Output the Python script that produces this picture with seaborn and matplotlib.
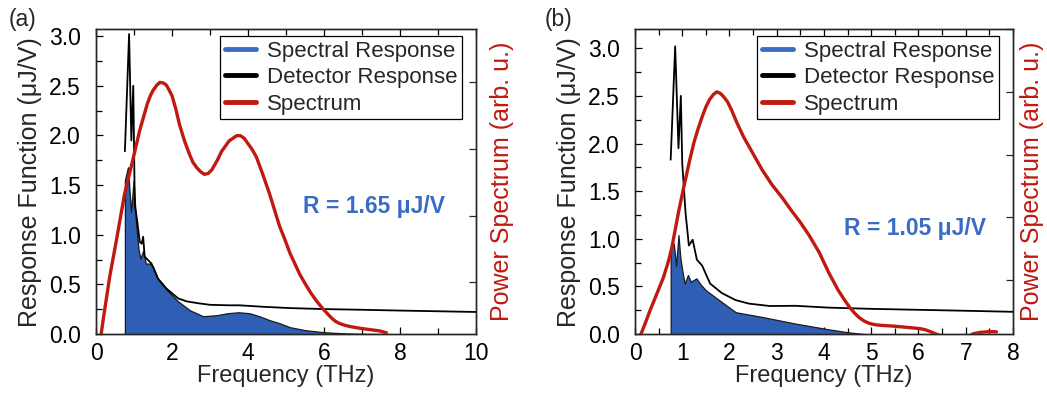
import matplotlib
matplotlib.use("Agg")
import matplotlib.pyplot as plt
from matplotlib.lines import Line2D
from matplotlib.ticker import MultipleLocator, FormatStrFormatter
import seaborn as sns
import pandas as pd

# ---------------- data: panel (a) ----------------
freq_det_a = [0.76, 0.87, 0.93, 0.98, 1.02, 1.08, 1.15, 1.20, 1.24, 1.28, 1.33, 1.46, 1.63,
              1.85, 2.16, 2.38, 2.70, 3.00, 3.50, 3.78, 4.40, 5.10, 6.00, 7.00, 8.00, 9.00, 10.0]
det_a = [1.84, 3.02, 1.95, 2.50, 1.30, 1.15, 0.93, 0.91, 0.98, 0.78, 0.76, 0.71, 0.56,
         0.46, 0.36, 0.33, 0.31, 0.295, 0.29, 0.29, 0.275, 0.262, 0.252, 0.245, 0.237, 0.23, 0.223]

freq_resp_a = [0.76, 0.84, 0.92, 0.99, 1.06, 1.12, 1.17, 1.24, 1.31, 1.41, 1.50, 1.63, 1.85,
               2.16, 2.47, 2.82, 3.17, 3.45, 3.75, 4.04, 4.30, 4.57, 4.83, 5.10, 5.50, 5.97,
               6.50, 7.00, 7.80]
resp_a = [1.55, 1.68, 1.23, 1.55, 1.08, 0.85, 0.76, 0.84, 0.71, 0.71, 0.68, 0.55, 0.45,
          0.33, 0.24, 0.18, 0.19, 0.21, 0.22, 0.21, 0.18, 0.14, 0.11, 0.07, 0.04, 0.02,
          0.008, 0.003, 0.0]

freq_spec_a = [0.08, 0.20, 0.36, 0.54, 0.75, 0.97, 1.15, 1.25, 1.35, 1.43, 1.50, 1.60, 1.68,
               1.77, 1.85, 1.93, 2.00, 2.10, 2.20, 2.33, 2.46, 2.55, 2.65, 2.75, 2.85, 2.95,
               3.05, 3.20, 3.30, 3.40, 3.50, 3.60, 3.70, 3.80, 3.90, 4.00, 4.10, 4.22, 4.40,
               4.57, 4.70, 4.83, 4.97, 5.10, 5.23, 5.36, 5.50, 5.65, 5.80, 5.97, 6.10, 6.20,
               6.30, 6.41, 6.55, 6.70, 6.94, 7.20, 7.46, 7.64]
spec_a = [0.0, 0.12, 0.27, 0.41, 0.58, 0.71, 0.82, 0.87, 0.92, 0.95, 0.97, 0.99, 1.0,
          0.998, 0.99, 0.97, 0.95, 0.90, 0.84, 0.78, 0.73, 0.70, 0.68, 0.665, 0.655, 0.658,
          0.672, 0.71, 0.74, 0.76, 0.78, 0.79, 0.80, 0.80, 0.79, 0.77, 0.75, 0.72, 0.65,
          0.58, 0.52, 0.46, 0.41, 0.36, 0.32, 0.28, 0.245, 0.21, 0.18, 0.15, 0.13, 0.115,
          0.103, 0.095, 0.088, 0.083, 0.077, 0.072, 0.067, 0.06]

# ---------------- data: panel (b) ----------------
freq_det_b = [0.755, 0.85, 0.92, 0.97, 1.00, 1.07, 1.14, 1.22, 1.31, 1.42, 1.59, 1.84, 2.13,
              2.41, 2.85, 3.40, 4.10, 5.00, 6.00, 7.00, 8.00]
det_b = [1.83, 3.02, 1.95, 2.50, 1.79, 1.27, 0.93, 0.99, 0.78, 0.72, 0.53, 0.43, 0.357,
         0.32, 0.295, 0.297, 0.278, 0.265, 0.255, 0.245, 0.234]

freq_resp_b = [0.755, 0.82, 0.87, 0.92, 0.96, 1.00, 1.05, 1.12, 1.18, 1.30, 1.39, 1.50, 1.78,
               2.13, 2.69, 3.40, 4.10, 4.50, 4.85]
resp_b = [0.90, 0.95, 0.72, 1.04, 0.80, 0.67, 0.53, 0.62, 0.55, 0.585, 0.52, 0.46, 0.357,
          0.23, 0.18, 0.11, 0.05, 0.02, 0.0]

freq_spec_b = [0.05, 0.20, 0.32, 0.45, 0.60, 0.70, 0.78, 0.85, 0.92, 1.02, 1.09, 1.16, 1.25,
               1.33, 1.42, 1.50, 1.58, 1.66, 1.73, 1.80, 1.88, 1.96, 2.05, 2.15, 2.30, 2.45,
               2.69, 2.90, 3.11, 3.30, 3.50, 3.68, 3.90, 4.10, 4.20, 4.30, 4.42, 4.55, 4.65,
               4.75, 4.85, 4.97, 5.10, 5.20, 5.46, 5.75, 6.03, 6.15, 6.25, 6.35, 6.45, 6.70,
               7.00, 7.15, 7.30, 7.50, 7.65]
spec_b = [0.0, 0.07, 0.13, 0.19, 0.26, 0.32, 0.38, 0.45, 0.52, 0.61, 0.67, 0.73, 0.80,
          0.85, 0.90, 0.94, 0.97, 0.99, 1.0, 0.995, 0.98, 0.96, 0.925, 0.88, 0.82, 0.77,
          0.69, 0.63, 0.58, 0.53, 0.48, 0.43, 0.36, 0.28, 0.245, 0.21, 0.175, 0.14, 0.118,
          0.10, 0.087, 0.077, 0.072, 0.07, 0.067, 0.062, 0.057, 0.052, 0.045, 0.037, 0.03,
          0.015, 0.015, 0.036, 0.042, 0.045, 0.044]

r_labels = ["R = 1.65 μJ/V", "R = 1.05 μJ/V"]
panel_tags = ["(a)", "(b)"]
legend_labels = ["Spectral Response", "Detector Response", "Spectrum"]

# ---------------- style ----------------
sns.set_theme(style="ticks")
plt.rcParams["font.family"] = ["Liberation Sans", "DejaVu Sans"]
plt.rcParams["axes.linewidth"] = 1.0
plt.rcParams["lines.solid_joinstyle"] = "round"
plt.rcParams["lines.solid_capstyle"] = "round"

RED = "#c0190f"
BLUE_FILL = "#2f5fb5"
BLUE_TXT = "#3a6cc6"

fig = plt.figure(figsize=(10.47, 3.94), dpi=100)
ax_a = fig.add_axes([0.0917, 0.152, 0.363, 0.774])
ax_b = fig.add_axes([0.6065, 0.152, 0.361, 0.774])

panels = [
    dict(ax=ax_a, fd=freq_det_a, d=det_a, fr=freq_resp_a, r=resp_a, fs=freq_spec_a, s=spec_a,
         xlim=(0, 10), xmaj=2, xmin=1, ylim=(0, 3.07), rlim=(0.055, 1.2), rpad=10,
         rtext=r_labels[0], rpos=(7.31, 1.28), tag=panel_tags[0], tagx=0.008),
    dict(ax=ax_b, fd=freq_det_b, d=det_b, fr=freq_resp_b, r=resp_b, fs=freq_spec_b, s=spec_b,
         xlim=(0, 8), xmaj=1, xmin=0.5, ylim=(0, 3.2), rlim=(0.035, 1.25), rpad=5,
         rtext=r_labels[1], rpos=(5.92, 1.11), tag=panel_tags[1], tagx=0.52),
]

for p in panels:
    ax = p["ax"]
    resp_df = pd.DataFrame({"f": p["fr"], "v": p["r"]})
    det_df = pd.DataFrame({"f": p["fd"], "v": p["d"]})
    spec_df = pd.DataFrame({"f": p["fs"], "v": p["s"]})

    # spectral response: filled area with a thin dark outline
    ax.fill_between(resp_df["f"], 0, resp_df["v"], facecolor=BLUE_FILL,
                    edgecolor="#1a1a1a", linewidth=0.9, zorder=2)
    sns.lineplot(data=det_df, x="f", y="v", ax=ax, color="black", linewidth=1.3,
                 estimator=None, zorder=3)

    ax.set_xlim(*p["xlim"])
    ax.set_ylim(*p["ylim"])
    ax.xaxis.set_major_locator(MultipleLocator(p["xmaj"]))
    ax.xaxis.set_minor_locator(MultipleLocator(p["xmin"]))
    ax.yaxis.set_major_locator(MultipleLocator(0.5))
    ax.yaxis.set_minor_locator(MultipleLocator(0.25))
    ax.yaxis.set_major_formatter(FormatStrFormatter("%.1f"))
    ax.tick_params(axis="both", which="both", direction="in", top=True, right=False,
                   labelsize=16.5, colors="black", width=0.9)
    ax.tick_params(which="major", length=5)
    ax.tick_params(which="minor", length=4)
    ax.tick_params(axis="x", pad=6)
    ax.tick_params(axis="y", pad=11)
    ax.set_xlabel("Frequency (THz)", fontsize=17, labelpad=0)
    ax.set_ylabel("Response Function (μJ/V)", fontsize=18, labelpad=5)

    # power spectrum on its own scale
    tw = ax.twinx()
    sns.lineplot(data=spec_df, x="f", y="v", ax=tw, color=RED, linewidth=2.4,
                 estimator=None, zorder=4)
    tw.set_ylim(*p["rlim"])
    tw.yaxis.set_major_locator(MultipleLocator(0.25))
    tw.tick_params(axis="y", direction="in", length=5, width=0.9, labelright=False)
    tw.set_ylabel("Power Spectrum (arb. u.)", color=RED, fontsize=18, labelpad=p["rpad"])
    tw.set_xlim(*p["xlim"])

    ax.text(p["rpos"][0], p["rpos"][1], p["rtext"], color=BLUE_TXT, fontsize=16.5,
            fontweight="bold", ha="center", va="center", zorder=6)

    handles = [Line2D([], [], color=BLUE_TXT, lw=3.5),
               Line2D([], [], color="black", lw=3.5),
               Line2D([], [], color=RED, lw=3.5)]
    leg = tw.legend(handles, legend_labels,
                    loc="upper right", bbox_to_anchor=(0.963, 0.977), fontsize=16,
                    frameon=True, fancybox=False, framealpha=1, edgecolor="black",
                    handlelength=1.4, handletextpad=0.5, borderpad=0.2,
                    labelspacing=0.25, borderaxespad=0)
    leg.get_frame().set_linewidth(0.9)
    leg.set_zorder(10)

    fig.text(p["tagx"], 0.95, p["tag"], fontsize=16.5, ha="left", va="center")

fig.savefig("out.png", dpi=100)
